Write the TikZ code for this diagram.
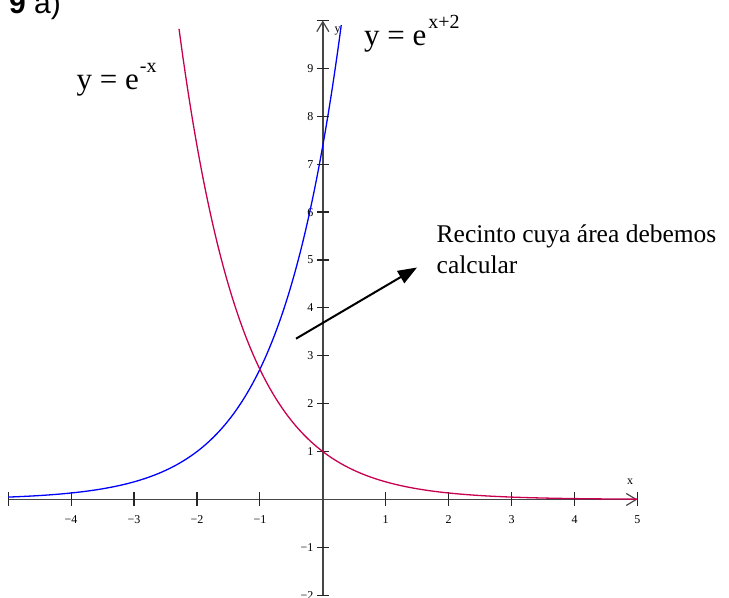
\documentclass[tikz,border=0pt]{standalone}
\usepackage{fontspec}
\setmainfont{Liberation Serif}
\newfontfamily\arialf{Liberation Sans}
\usetikzlibrary{arrows.meta}
\definecolor{curvered}{RGB}{200,0,80}
\definecolor{axisgray}{RGB}{70,70,70}
\begin{document}
\begin{tikzpicture}[x=62.93pt,y=47.9pt,
  axisline/.style={draw=axisgray,line width=1.4pt},
  axistip/.style={-{Straight Barb[length=10pt,width=12pt,line width=1.2pt]}},
  tickmark/.style={draw=black!85,line width=1.2pt},
  ticklabel/.style={inner sep=0pt,font=\fontsize{12}{14}\selectfont},
  curveA/.style={draw=blue,line width=1.3pt},
  curveB/.style={draw=curvered,line width=1.3pt},
  biglabel/.style={inner sep=0pt,anchor=base west,font=\fontsize{31}{37}\selectfont},
  pointer/.style={line width=2pt,-{Triangle[length=19pt,width=14pt]}}
  ]
\useasboundingbox (-5.130,-2.056) rectangle (6.455,10.428);
% axes
\coordinate (xmin) at (-5,0);
\coordinate (xmax) at (5,0);
\coordinate (ymin) at (0,-2);
\coordinate (ymax) at (0,10);
\draw[axisline,axistip] (xmin) -- (xmax);
\draw[axisline,axistip] (ymin) -- (ymax);
% ticks
\foreach \i in {-5,-4,-3,-2,-1,1,2,3,4,5}
  \draw[tickmark] ([yshift=7pt]\i,0) -- ([yshift=-7pt]\i,0);
\foreach \i in {-2,-1,1,2,3,4,5,6,7,8,9,10}
  \draw[tickmark] ([xshift=-6pt]0,\i) -- ([xshift=6pt]0,\i);
% tick labels
\foreach \i/\t/\n in {-4/−4/a,-3/−3/b,-2/−2/c,-1/−1/d,1/1/e,2/2/f,3/3/g,4/4/h,5/5/i}
  \node[ticklabel] (xl\n) at (\i,-0.428) {\t};
\foreach \i/\t/\n in {-2/−2/a,-1/−1/b,1/1/c,2/2/d,3/3/e,4/4/f,5/5/g,6/6/h,7/7/i,8/8/j,9/9/k}
  \node[ticklabel,anchor=east] (yl\n) at ([xshift=-9.3pt]0,\i) {\t};
\node[ticklabel] (xname) at (4.882,0.376) {x};
\node[ticklabel] (yname) at (0.234,9.781) {y};
% curves
\draw[curveA] plot[domain=-5:0.295,samples=150,smooth] (\x,{exp(\x+2)});
\draw[curveB] plot[domain=-2.285:5,samples=150,smooth] (\x,{exp(-\x)});
% labels
\node[font=\arialf\fontsize{30}{36}\selectfont,inner sep=0pt,anchor=base west] (title) at (-4.987,10.146) {\textbf{9} a)};
\node[biglabel] (eqB) at (0.655,9.474) {y = e\kern2pt\raisebox{17.5pt}{\fontsize{20}{23}\selectfont x+2}};
\node[biglabel] (eqA) at (-3.914,8.549) {y = e\kern1pt\raisebox{17.5pt}{\fontsize{20}{23}\selectfont -x}};
\node[inner sep=0pt,anchor=base west,align=left,font=\fontsize{25.5}{31}\selectfont] (rec) at (1.807,4.708) {Recinto cuya área debemos\\calcular};
% pointer arrow
\coordinate (arrS) at (-0.426,3.357);
\coordinate (arrE) at (1.497,4.843);
\draw[pointer] (arrS) -- (arrE);
\end{tikzpicture}
\end{document}
